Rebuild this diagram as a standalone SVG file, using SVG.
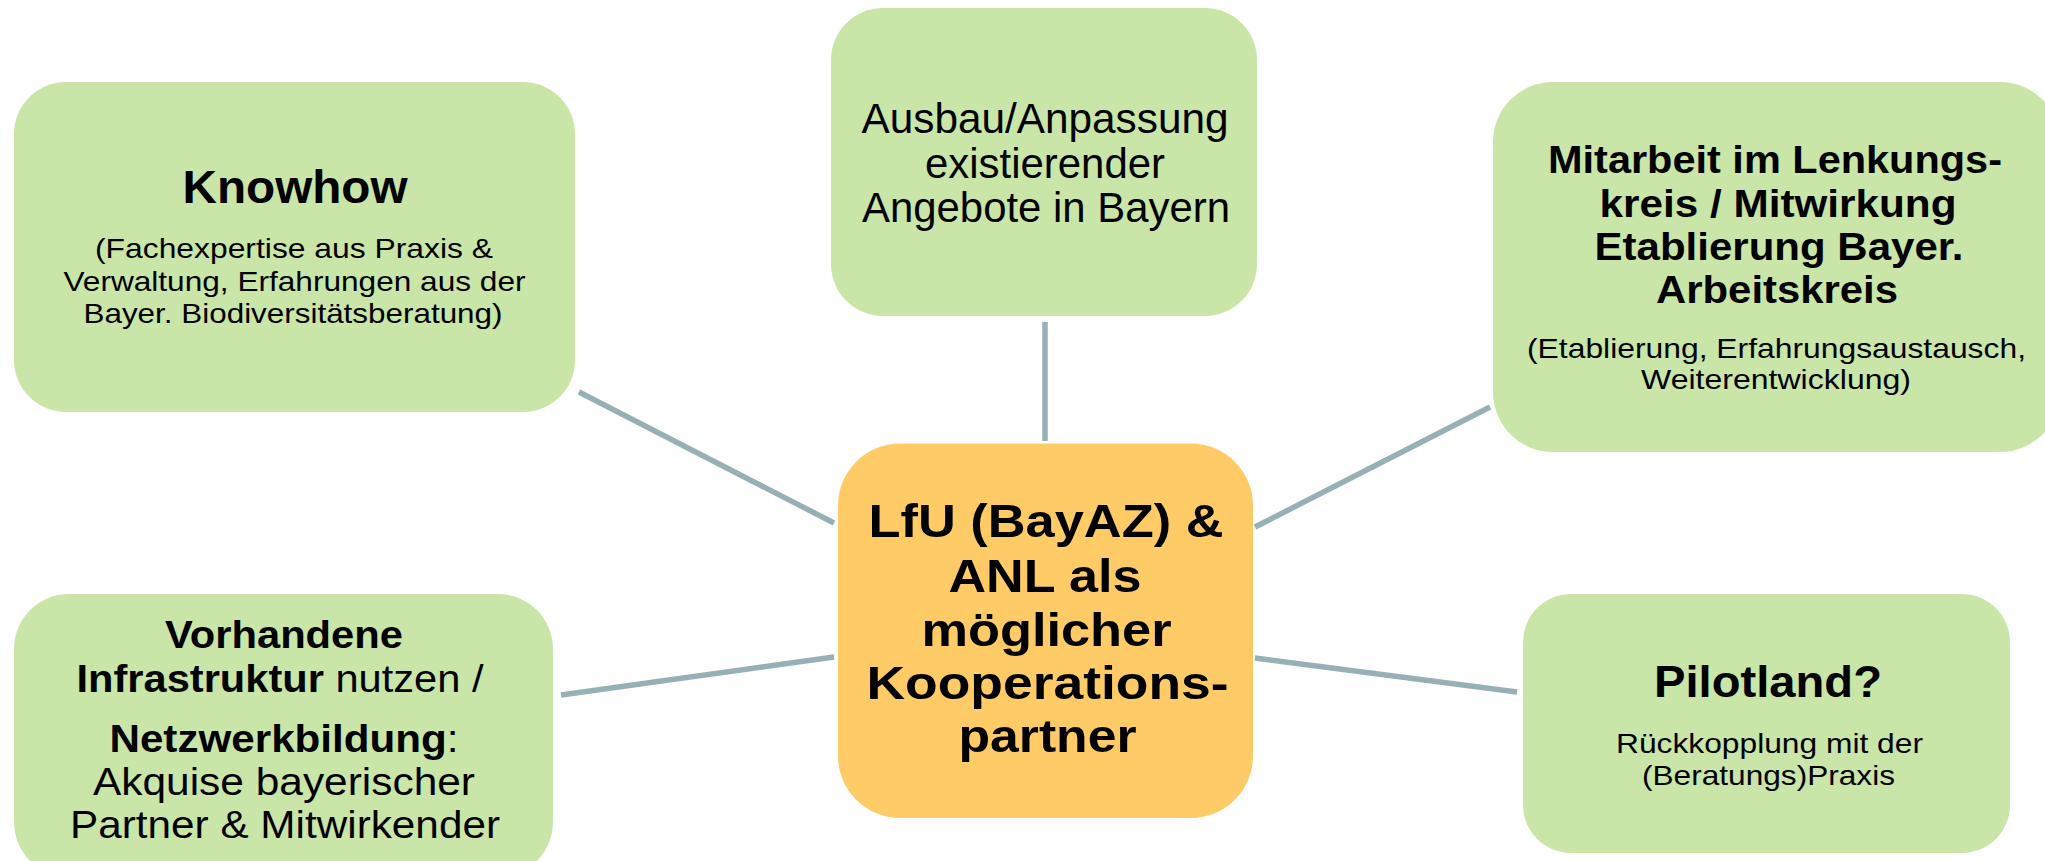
<svg xmlns="http://www.w3.org/2000/svg" width="2045" height="861" viewBox="0 0 2045 861">
<style>
.box{fill:#C9E6A8;}
.core{fill:#FECB66;}
.con{stroke:#96B0B6;stroke-width:5.5;fill:none;}
text{font-family:"Liberation Sans",Arial,sans-serif;fill:#000;text-anchor:middle;}
.b{font-weight:bold;}
.s{font-size:28px;}
</style>
<rect x="0" y="0" width="2045" height="861" fill="#FFFFFF"/>
<g id="connectors">
<line class="con" x1="579" y1="392" x2="834" y2="523"/>
<line class="con" x1="1045" y1="322" x2="1045" y2="441"/>
<line class="con" x1="1255" y1="527" x2="1490" y2="407"/>
<line class="con" x1="561" y1="695" x2="834" y2="657"/>
<line class="con" x1="1255" y1="658" x2="1517" y2="692"/>
</g>
<g id="knowhow">
<rect class="box" x="14" y="82" width="561" height="330" rx="52" ry="52"/>
<text class="b" x="295" y="203" font-size="46" textLength="225" lengthAdjust="spacingAndGlyphs">Knowhow</text>
<text class="s" x="294" y="258" textLength="398" lengthAdjust="spacingAndGlyphs">(Fachexpertise aus Praxis &amp;</text>
<text class="s" x="294.5" y="291" textLength="462" lengthAdjust="spacingAndGlyphs">Verwaltung, Erfahrungen aus der</text>
<text class="s" x="293" y="323" textLength="419" lengthAdjust="spacingAndGlyphs">Bayer. Biodiversitätsberatung)</text>
</g>
<g id="ausbau">
<rect class="box" x="831" y="8" width="426" height="308" rx="52" ry="52"/>
<text x="1045" y="133" font-size="42" textLength="367" lengthAdjust="spacingAndGlyphs">Ausbau/Anpassung</text>
<text x="1045" y="177.5" font-size="42" textLength="240" lengthAdjust="spacingAndGlyphs">existierender</text>
<text x="1046" y="222" font-size="42" textLength="368" lengthAdjust="spacingAndGlyphs">Angebote in Bayern</text>
</g>
<g id="mitarbeit">
<rect class="box" x="1493" y="82" width="567" height="370" rx="60" ry="60"/>
<text class="b" x="1775" y="173" font-size="38" textLength="454" lengthAdjust="spacingAndGlyphs">Mitarbeit im Lenkungs-</text>
<text class="b" x="1778" y="216.5" font-size="38" textLength="357" lengthAdjust="spacingAndGlyphs">kreis / Mitwirkung</text>
<text class="b" x="1779" y="260" font-size="38" textLength="369" lengthAdjust="spacingAndGlyphs">Etablierung Bayer.</text>
<text class="b" x="1777" y="303" font-size="38" textLength="242" lengthAdjust="spacingAndGlyphs">Arbeitskreis</text>
<text class="s" x="1776.5" y="358" textLength="499" lengthAdjust="spacingAndGlyphs">(Etablierung, Erfahrungsaustausch,</text>
<text class="s" x="1776" y="389" textLength="270" lengthAdjust="spacingAndGlyphs">Weiterentwicklung)</text>
</g>
<g id="center">
<rect class="core" x="838" y="443.5" width="415" height="374.5" rx="62" ry="62"/>
<text class="b" x="1046" y="537" font-size="46" textLength="355" lengthAdjust="spacingAndGlyphs">LfU (BayAZ) &amp;</text>
<text class="b" x="1045" y="591.5" font-size="46" textLength="193" lengthAdjust="spacingAndGlyphs">ANL als</text>
<text class="b" x="1046.5" y="646" font-size="46" textLength="250" lengthAdjust="spacingAndGlyphs">möglicher</text>
<text class="b" x="1047.5" y="698.5" font-size="46" textLength="362" lengthAdjust="spacingAndGlyphs">Kooperations-</text>
<text class="b" x="1047.5" y="752" font-size="46" textLength="178" lengthAdjust="spacingAndGlyphs">partner</text>
</g>
<g id="vorhandene">
<rect class="box" x="14" y="594" width="539" height="283" rx="55" ry="55"/>
<text class="b" x="284" y="648" font-size="38" textLength="238" lengthAdjust="spacingAndGlyphs">Vorhandene</text>
<text x="280" y="691.5" font-size="38" textLength="407" lengthAdjust="spacingAndGlyphs"><tspan class="b">Infrastruktur</tspan> nutzen /</text>
<text x="284" y="751.5" font-size="38" textLength="349" lengthAdjust="spacingAndGlyphs"><tspan class="b">Netzwerkbildung</tspan>:</text>
<text x="284" y="795" font-size="38" textLength="382" lengthAdjust="spacingAndGlyphs">Akquise bayerischer</text>
<text x="285" y="838" font-size="38" textLength="430" lengthAdjust="spacingAndGlyphs">Partner &amp; Mitwirkender</text>
</g>
<g id="pilotland">
<rect class="box" x="1523" y="594" width="487" height="259" rx="48" ry="48"/>
<text class="b" x="1768" y="696.5" font-size="45" textLength="228" lengthAdjust="spacingAndGlyphs">Pilotland?</text>
<text class="s" x="1769.5" y="752.5" textLength="307" lengthAdjust="spacingAndGlyphs">Rückkopplung mit der</text>
<text class="s" x="1768.5" y="784.5" textLength="253" lengthAdjust="spacingAndGlyphs">(Beratungs)Praxis</text>
</g>
</svg>
